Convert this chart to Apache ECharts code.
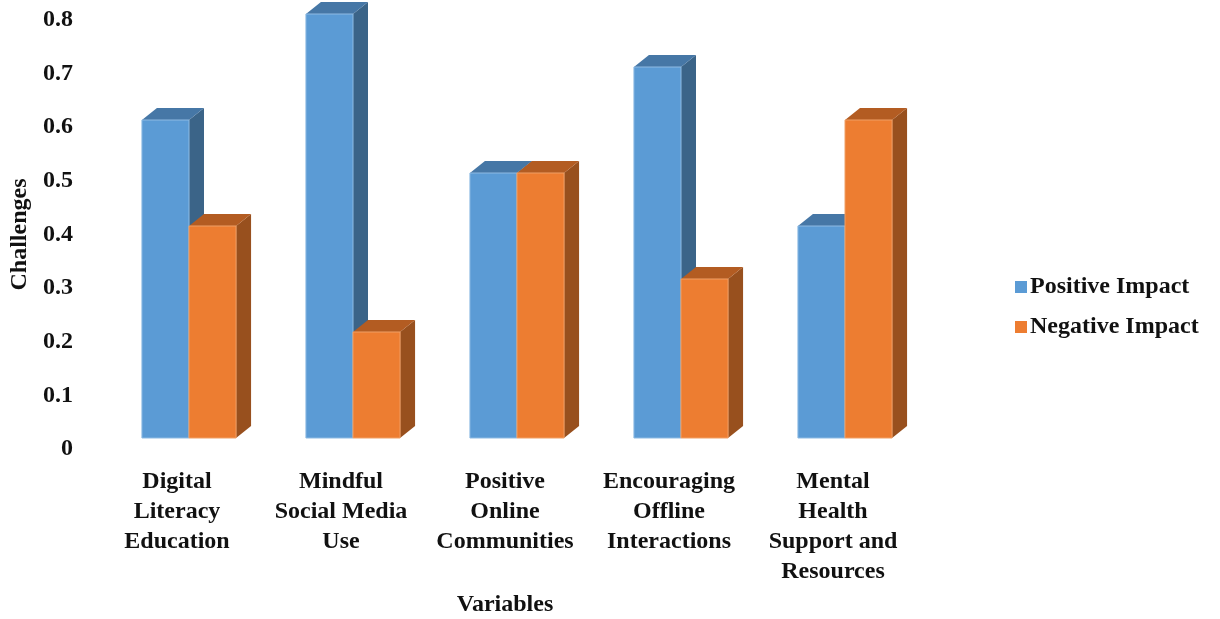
<!DOCTYPE html>
<html>
<head>
<meta charset="utf-8">
<script src="https://cdn.jsdelivr.net/npm/echarts@6/dist/echarts.min.js"></script>
<style>
  html, body { margin: 0; padding: 0; background: #fff; }
  #chart { width: 1220px; height: 619px; }
</style>
</head>
<body>
<div id="chart"></div>
<script>
// data
const categories = [
  'Digital\nLiteracy\nEducation',
  'Mindful\nSocial Media\nUse',
  'Positive\nOnline\nCommunities',
  'Encouraging\nOffline\nInteractions',
  'Mental\nHealth\nSupport and\nResources'
];
const positiveImpact = [0.6, 0.8, 0.5, 0.7, 0.4];
const negativeImpact = [0.4, 0.2, 0.5, 0.3, 0.6];
const yTicks = [0, 0.8, 0.1]; // min, max, step

const font = 'Liberation Serif';

// fake 3d bar: front, top and right faces
function bar3d(side, front, topCol, sideCol) {
  return function (params, api) {
    const base = api.coord([api.value(0), 0]);
    const top = api.coord([api.value(0), api.value(1)]);
    const band = api.size([1, 0])[0];
    const w = band * 0.287;
    const x0 = side < 0 ? top[0] - w : top[0];
    const x1 = x0 + w;
    const dx = 15, dy = 12;
    const yT = top[1], yB = base[1];
    return {
      type: 'group',
      children: [
        {
          type: 'polygon',
          shape: { points: [[x1, yT], [x1 + dx, yT - dy], [x1 + dx, yB - dy], [x1, yB]] },
          style: { fill: sideCol }
        },
        {
          type: 'polygon',
          shape: { points: [[x0, yT], [x0 + dx, yT - dy], [x1 + dx, yT - dy], [x1, yT]] },
          style: { fill: topCol }
        },
        {
          type: 'rect',
          shape: { x: x0, y: yT, width: w, height: yB - yT },
          style: { fill: front, stroke: side < 0 ? '#8fbbe3' : '#f0a067', lineWidth: 1 }
        }
      ]
    };
  };
}

const chart = echarts.init(document.getElementById('chart'));

const option = {
  backgroundColor: '#fff',
  animation: false,
  grid: [
    { left: 107, right: 293, top: 20, bottom: 170 },
    { left: 107, right: 293, top: 14, bottom: 181 }
  ],
  legend: {
    orient: 'vertical',
    left: 1010,
    top: 270,
    itemWidth: 12,
    itemHeight: 12,
    itemGap: 16,
    icon: 'rect',
    textStyle: { fontFamily: font, fontWeight: 'bold', fontSize: 24, color: '#111', padding: [0, 0, 0, -2] },
    data: ['Positive Impact', 'Negative Impact']
  },
  xAxis: [
    { gridIndex: 0, type: 'value', show: false },
    {
      gridIndex: 1,
      type: 'category',
      data: categories,
      axisLine: { show: false },
      axisTick: { show: false },
      axisLabel: {
        interval: 0,
        margin: 29,
        lineHeight: 30,
        padding: [0, 24, 0, 0], // labels sit a little left of the bar pair
        fontFamily: font,
        fontWeight: 'bold',
        fontSize: 24,
        color: '#111'
      }
    }
  ],
  yAxis: [
    {
      gridIndex: 0,
      type: 'value',
      min: yTicks[0],
      max: yTicks[1],
      interval: yTicks[2],
      name: 'Challenges',
      nameLocation: 'middle',
      nameGap: 76,
      nameRotate: 90,
      nameTextStyle: { fontFamily: font, fontWeight: 'bold', fontSize: 24, color: '#111' },
      axisLine: { show: false },
      axisTick: { show: false },
      splitLine: { show: false },
      axisLabel: {
        margin: 42,
        fontFamily: font,
        fontWeight: 'bold',
        fontSize: 24,
        color: '#111'
      }
    },
    { gridIndex: 1, type: 'value', min: yTicks[0], max: yTicks[1], show: false }
  ],
  graphic: [
    {
      type: 'text',
      x: 505,
      y: 605,
      style: {
        text: 'Variables',
        fontFamily: font,
        fontWeight: 'bold',
        fontSize: 24,
        fill: '#111',
        textAlign: 'center',
        textVerticalAlign: 'middle'
      }
    }
  ],
  series: [
    {
      name: 'Positive Impact',
      type: 'custom',
      xAxisIndex: 1,
      yAxisIndex: 1,
      itemStyle: { color: '#5B9BD5' },
      renderItem: bar3d(-1, '#5B9BD5', '#4677A6', '#3B6488'),
      encode: { x: 0, y: 1 },
      data: positiveImpact.map((v, i) => [i, v])
    },
    {
      name: 'Negative Impact',
      type: 'custom',
      xAxisIndex: 1,
      yAxisIndex: 1,
      itemStyle: { color: '#ED7D31' },
      renderItem: bar3d(1, '#ED7D31', '#B35C22', '#98501E'),
      encode: { x: 0, y: 1 },
      data: negativeImpact.map((v, i) => [i, v])
    }
  ]
};

chart.setOption(option);
</script>
</body>
</html>
